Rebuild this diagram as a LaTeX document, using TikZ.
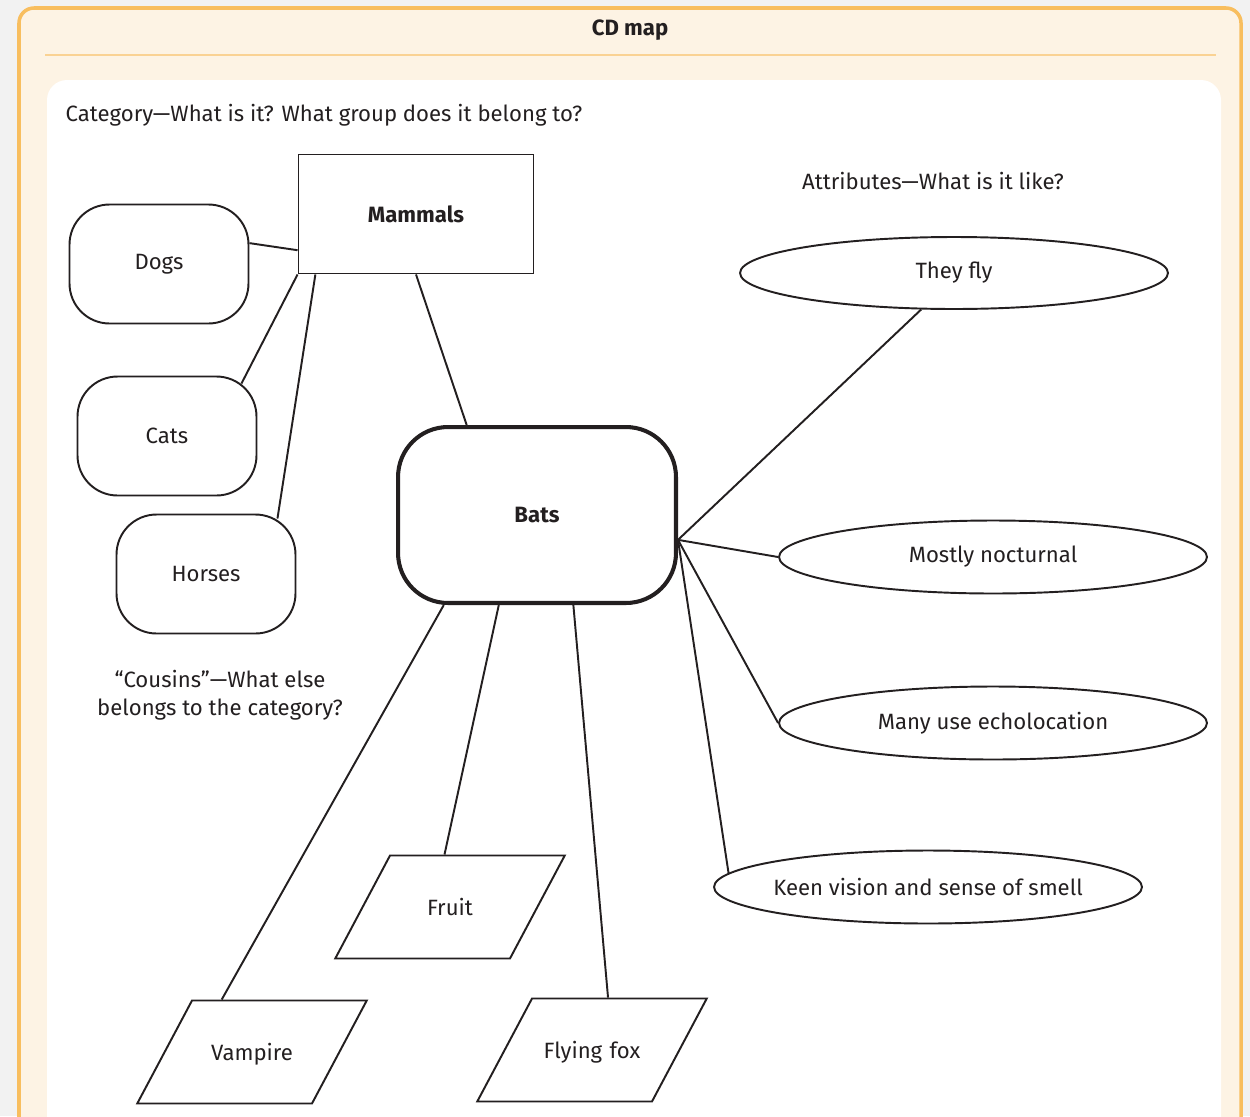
\documentclass[tikz,border=0pt]{standalone}
\usepackage{fontspec}
\setmainfont{Fira Sans}[Scale=1.26]
\usetikzlibrary{shapes.geometric,positioning}
\definecolor{pagegray}{HTML}{F2F2F2}
\definecolor{panelfill}{HTML}{FDF3E4}
\definecolor{panelline}{HTML}{F8BE5F}
\definecolor{headline}{HTML}{FAD293}
\definecolor{inkdark}{HTML}{231F20}
\tikzset
{
    groupnode/.style = {rectangle, draw=inkdark, line width=1.1pt, align=center, minimum width=4.7cm, minimum height=2.38cm, font=\bfseries},
    cousinnode/.style = {rectangle, rounded corners=0.8cm, draw=inkdark, line width=1.1pt, align=center, minimum width=3.58cm, minimum height=2.38cm},
    topicnode/.style = {rectangle, rounded corners=1cm, draw=inkdark, line width=2.3pt, align=center, minimum width=5.56cm, minimum height=3.52cm, font=\bfseries},
    attrnode/.style = {ellipse, draw=inkdark, line width=1.1pt, inner ysep=0pt, inner xsep=-0.5cm, minimum width=8.56cm, minimum height=1.46cm},
    kindnode/.style = {trapezium, trapezium left angle=62, trapezium right angle=118, draw=inkdark, line width=1.1pt, inner sep=0pt, text width=2.4cm, align=center, text height=1.19cm, text depth=0.87cm},
    link/.style = {draw=inkdark, line width=1.1pt},
    heading/.style = {text=inkdark, align=center}
}
\begin{document}
\begin{tikzpicture}[x=0.02cm, y=-0.02cm, text=inkdark]
\useasboundingbox (0,0) rectangle (1250,1116);
\fill[pagegray] (0,0) rectangle (1250,1116);
\fill[panelfill, rounded corners=0.3cm] (19,8) rectangle (1241,1160);
\draw[panelline, line width=2pt, rounded corners=0.3cm] (19,1130) -- (19,8) -- (1241,8) -- (1241,1130);
\draw[headline, line width=1.5pt] (45,55) -- (1216,55);
\fill[white, rounded corners=0.4cm] (47,80) rectangle (1221,1160);

\node[heading, font=\bfseries] (title) at (630,30) {CD map};
\node[heading, anchor=west] (catq) at (58,115) {Category—What is it? What group does it belong to?};
\node[heading] (attrq) at (933,181) {Attributes—What is it like?};
\node[heading] (cousinq) at (220,695) {“Cousins”—What else\\[4pt]belongs to the category?};

\node[groupnode] (mammals) at (416,214) {Mammals};
\node[cousinnode] (dogs) at (159,264) {Dogs};
\node[cousinnode] (cats) at (167,436) {Cats};
\node[cousinnode] (horses) at (206,574) {Horses};
\node[topicnode] (bats) at (537,515) {Bats};
\node[attrnode, minimum height=1.44cm] (fly) at (954,273) {They fly};
\node[attrnode] (nocturnal) at (993,557) {Mostly nocturnal};
\node[attrnode] (echo) at (993,723) {Many use echolocation};
\node[attrnode] (senses) at (928,887) {Keen vision and sense of smell};
\node[kindnode] (fruit) at (450,907) {Fruit};
\node[kindnode] (vampire) at (252,1052) {Vampire};
\node[kindnode] (flyfox) at (592,1050) {Flying fox};

\draw[link] (dogs.13) -- (mammals.197);
\draw[link] ([xshift=-0.32cm,yshift=-0.16cm]cats.north east) -- (mammals.south west);
\draw[link] ([xshift=-0.38cm,yshift=-0.1cm]horses.north east) -- (mammals.211);
\draw[link] (mammals.south) -- (bats.128);
\draw[link] (bats.350) -- (fly.228);
\draw[link] (bats.350) -- (nocturnal.west);
\draw[link] (bats.350) -- (echo.west);
\draw[link] (bats.350) -- (senses.176);
\draw[link] (bats.224) -- (vampire.120);
\draw[link] (bats.247) -- (fruit.96);
\draw[link] (bats.292) -- (flyfox.73);
\end{tikzpicture}
\end{document}
